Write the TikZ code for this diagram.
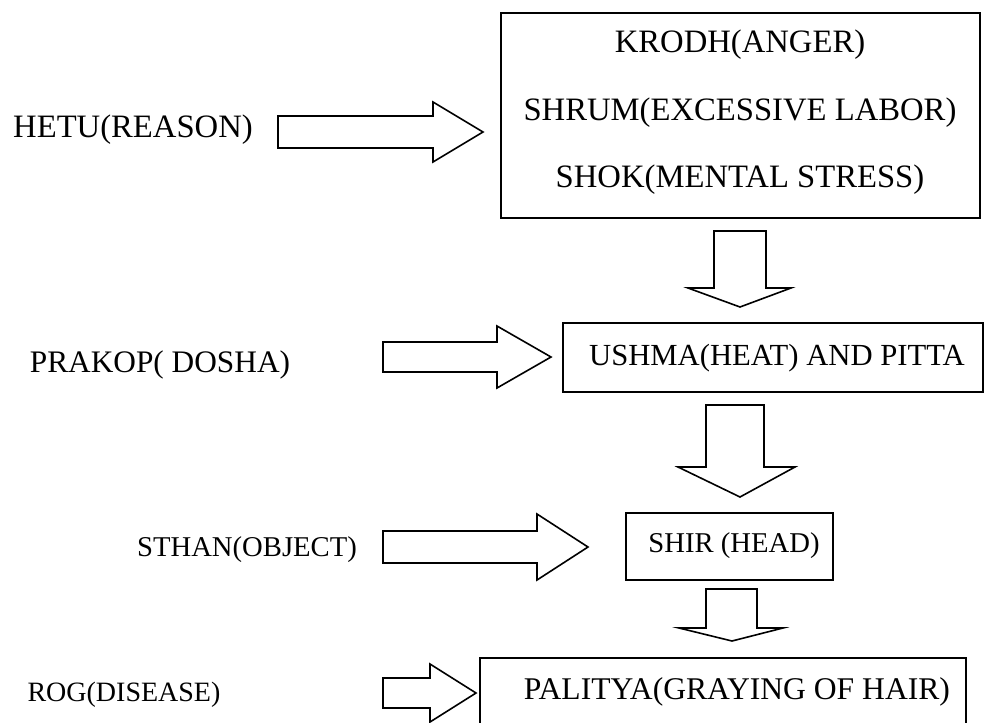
\documentclass[tikz,border=0pt]{standalone}
\usepackage{fontspec}
\setmainfont{Liberation Serif}
\usetikzlibrary{positioning}

\tikzset{
  lbl/.style={inner sep=0pt,font=\fontsize{#1}{#1}\selectfont},
  lbl/.default=24.5,
  boxline/.style={black,line width=1.7pt},
  blockarrow/.style={black,fill=white,line width=1.2pt,line join=miter}
}

\begin{document}
\begin{tikzpicture}[x=0.75pt,y=-0.75pt]
\useasboundingbox (0,0) rectangle (988,722);

% boxes
\draw[boxline] (501,13) rectangle (980,218);
\draw[boxline] (563,323) rectangle (983,392);
\draw[boxline] (626,513) rectangle (833,580);
\draw[boxline] (480,724) -- (480,658) -- (966,658) -- (966,724);

% texts in the boxes
\node[lbl] (krodh) at (740,45) {KRODH(ANGER)};
\node[lbl] (shrum) at (740,113) {SHRUM(EXCESSIVE LABOR)};
\node[lbl] (shok) at (740,180) {SHOK(MENTAL STRESS)};
\node[lbl=23] (ushma) at (777,358) {USHMA(HEAT) AND PITTA};
\node[lbl=21.5] (shir) at (734,546) {SHIR (HEAD)};
\node[lbl=23.7] (palitya) at (737,692) {PALITYA(GRAYING OF HAIR)};

% texts on the left
\node[lbl] (hetu) at (133,130) {HETU(REASON)};
\node[lbl=23.5] (prakop) at (160,365) {PRAKOP( DOSHA)};
\node[lbl=21.5] (sthan) at (247,550) {STHAN(OBJECT)};
\node[lbl=21] (rog) at (124,695) {ROG(DISEASE)};

% right arrows
\draw[blockarrow] (278,116) -- (433,116) -- (433,102) -- (483,132) -- (433,162) -- (433,148) -- (278,148) -- cycle;
\draw[blockarrow] (383,342) -- (497,342) -- (497,326) -- (551,357) -- (497,388) -- (497,372) -- (383,372) -- cycle;
\draw[blockarrow] (383,531) -- (537,531) -- (537,514) -- (588,547) -- (537,580) -- (537,563) -- (383,563) -- cycle;
\draw[blockarrow] (383,678) -- (430,678) -- (430,664) -- (476,693) -- (430,722) -- (430,708) -- (383,708) -- cycle;

% down arrows
\draw[blockarrow] (714,231) -- (766,231) -- (766,288) -- (791,288) -- (740,307) -- (688,288) -- (714,288) -- cycle;
\draw[blockarrow] (706,405) -- (764,405) -- (764,467) -- (795,467) -- (740,497) -- (678,467) -- (706,467) -- cycle;
\draw[blockarrow] (706,589) -- (757,589) -- (757,628) -- (783,628) -- (732,641) -- (679,628) -- (706,628) -- cycle;
\end{tikzpicture}
\end{document}
